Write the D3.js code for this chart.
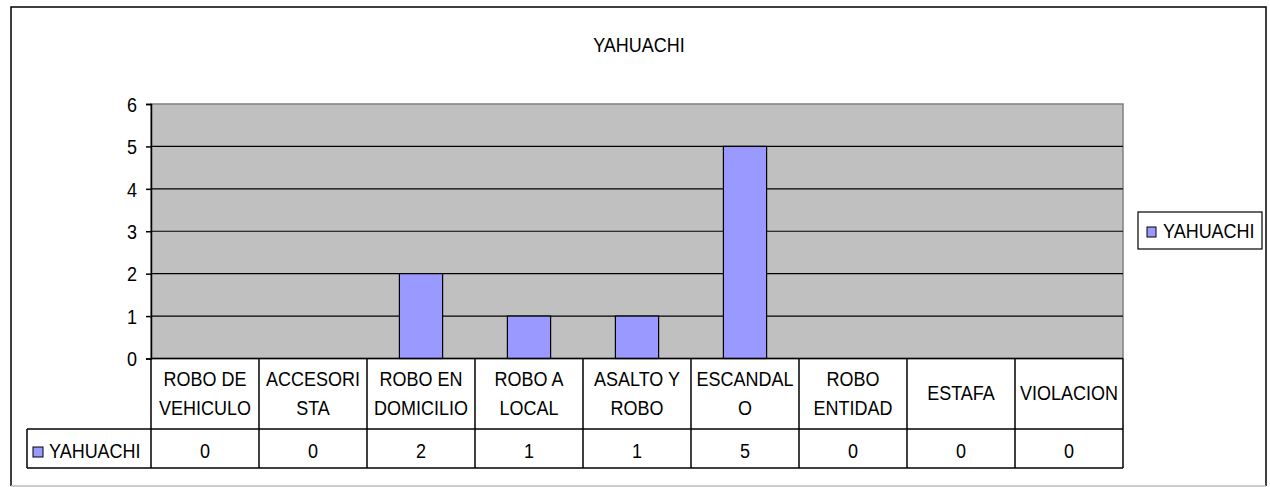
<!DOCTYPE html>
<html>
<head>
	<meta charset="utf-8">
	<title>YAHUACHI</title>
	<script src="https://cdn.jsdelivr.net/npm/d3@7"></script>
	<style type="text/css">
		html, body { margin: 0; padding: 0; background: #fff; }
		text { font-family: "Liberation Sans", Arial, sans-serif; font-size: 18px; fill: #000; }
	</style>
</head>
<body>
	<div id="chart"></div>
	<script type="text/javascript">
		var title = "YAHUACHI";
		var seriesName = "YAHUACHI";
		var categories = ["ROBO DE\nVEHICULO", "ACCESORI\nSTA", "ROBO EN\nDOMICILIO", "ROBO A\nLOCAL",
			"ASALTO Y\nROBO", "ESCANDAL\nO", "ROBO\nENTIDAD", "ESTAFA", "VIOLACION"];
		var values = [0, 0, 2, 1, 1, 5, 0, 0, 0];
		var yTicks = [0, 1, 2, 3, 4, 5, 6];

		var W = 1270, H = 487;
		var plot = {left: 151, right: 1123, top: 104, bottom: 358.5};
		var rowH = {head: 70.5, data: 39};
		var SY = 1.15; // text in the original is a bit tall

		var svg = d3.select('#chart').append('svg')
			.attr('width', W).attr('height', H);

		function label(g, str, x, y, anchor) {
			return g.append('text')
				.attr('transform', 'translate(' + x + ',' + y + ') scale(1,' + SY + ')')
				.attr('text-anchor', anchor || 'middle')
				.text(str);
		}

		// outer frame
		svg.append('path').attr('d', 'M11,486 L11,7 L1266,7 L1266,486')
			.attr('fill', 'none').attr('stroke', '#000').attr('stroke-width', 1.5);
		svg.append('line').attr('x1', 11).attr('x2', 1266).attr('y1', 486).attr('y2', 486)
			.attr('stroke', '#bbb').attr('stroke-width', 1.5);

		label(svg, title, W / 2 + 4, 52);

		var x = d3.scaleBand().domain(categories).range([plot.left, plot.right])
			.paddingInner(0.6).paddingOuter(0.3);
		var col = d3.scaleBand().domain(categories).range([plot.left, plot.right]);
		var y = d3.scaleLinear().domain([0, 6]).range([plot.bottom, plot.top]);

		// plot area
		svg.append('rect')
			.attr('x', plot.left).attr('y', plot.top)
			.attr('width', plot.right - plot.left).attr('height', plot.bottom - plot.top)
			.attr('fill', '#c0c0c0').attr('stroke', '#808080').attr('stroke-width', 1.5);

		// grid
		svg.append('g').selectAll('line')
			.data(yTicks.filter(function (d) { return d > 0 && d < 6; }))
			.enter().append('line')
			.attr('x1', plot.left).attr('x2', plot.right)
			.attr('y1', function (d) { return y(d); }).attr('y2', function (d) { return y(d); })
			.attr('stroke', '#000').attr('stroke-width', 1.2);

		// bars
		svg.append('g').selectAll('rect')
			.data(values)
			.enter().append('rect')
			.attr('x', function (d, i) { return x(categories[i]); })
			.attr('y', function (d) { return y(d); })
			.attr('width', x.bandwidth())
			.attr('height', function (d) { return plot.bottom - y(d); })
			.attr('fill', '#9999ff').attr('stroke', '#000').attr('stroke-width', 1.2);

		// y axis
		var ya = svg.append('g').attr('transform', 'translate(' + plot.left + ',0)')
			.call(d3.axisLeft(y).tickValues(yTicks).tickSize(5).tickPadding(9).tickFormat(d3.format('d')));
		ya.attr('font-family', null).attr('font-size', null);
		ya.select('.domain').attr('stroke', '#000').attr('stroke-width', 1.5);
		ya.selectAll('.tick line').attr('stroke', '#000').attr('stroke-width', 1.5);
		ya.selectAll('.tick text')
			.attr('dy', '0.35em')
			.attr('transform', 'scale(1,' + SY + ')');

		// data table
		var t = svg.append('g');
		var yHead = plot.bottom, yData = plot.bottom + rowH.head, yEnd = yData + rowH.data;
		var tline = function (x1, y1, x2, y2) {
			t.append('line').attr('x1', x1).attr('y1', y1).attr('x2', x2).attr('y2', y2)
				.attr('stroke', '#000').attr('stroke-width', 1.5);
		};
		tline(plot.left, yHead, plot.right, yHead);
		tline(27, yData, plot.right, yData);
		tline(27, yEnd, plot.right, yEnd);
		tline(27, yData, 27, yEnd);
		categories.forEach(function (c) { tline(col(c), yHead, col(c), yEnd); });
		tline(plot.right, yHead, plot.right, yEnd);

		categories.forEach(function (c, i) {
			var cx = col(c) + col.bandwidth() / 2;
			var lines = c.split('\n');
			if (lines.length === 1) {
				label(t, lines[0], cx, 400);
			} else {
				lines.forEach(function (s, k) { label(t, s, cx, 385.5 + k * 29.5); });
			}
			label(t, String(values[i]), cx, 458);
		});
		t.append('rect').attr('x', 33).attr('y', 447).attr('width', 10).attr('height', 10)
			.attr('fill', '#9999ff').attr('stroke', '#000').attr('stroke-width', 1);
		label(t, seriesName, 49, 458, 'start');

		// legend
		var lg = svg.append('g');
		lg.append('rect').attr('x', 1138).attr('y', 212).attr('width', 124).attr('height', 37)
			.attr('fill', '#fff').attr('stroke', '#000').attr('stroke-width', 1.2);
		lg.append('rect').attr('x', 1147).attr('y', 227).attr('width', 9).attr('height', 10)
			.attr('fill', '#9999ff').attr('stroke', '#000').attr('stroke-width', 1);
		label(lg, seriesName, 1163, 238, 'start');
	</script>
</body>
</html>
